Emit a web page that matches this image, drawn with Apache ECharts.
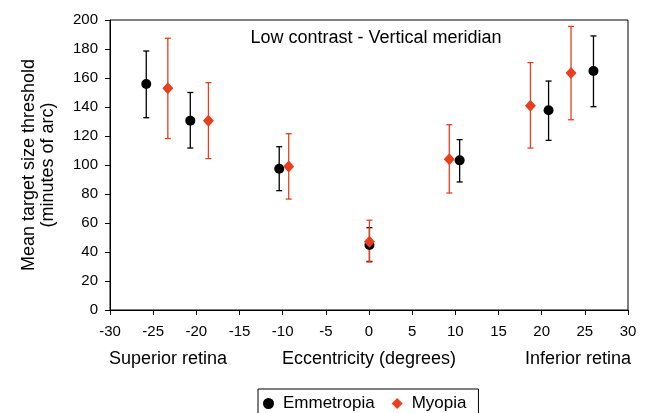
<!DOCTYPE html>
<html>
<head>
<meta charset="utf-8">
<script src="https://cdn.jsdelivr.net/npm/echarts@6/dist/echarts.min.js"></script>
<style>
  html, body { margin: 0; padding: 0; background: #fff; }
  #chart { width: 646px; height: 413px; }
</style>
</head>
<body>
<div id="chart"></div>
<script>
// eccentricity (deg), mean threshold and error bar ends
var emmX = [-25.8, -20.7, -10.4, 0.05, 10.5, 20.8, 26.0];
var emmY = [155.9, 130.6, 97.4, 44.8, 103.2, 137.7, 164.8];
var emmLow = [132.6, 111.7, 82.3, 33.5, 88.3, 117.0, 140.2];
var emmHigh = [178.6, 150.0, 112.6, 56.8, 117.5, 157.9, 189.0];

var myoX = [-23.3, -18.6, -9.3, 0.05, 9.3, 18.7, 23.4];
var myoY = [152.9, 130.6, 98.9, 47.1, 103.9, 140.9, 163.4];
var myoLow = [118.2, 104.4, 76.5, 33.1, 80.7, 111.7, 131.2];
var myoHigh = [187.4, 156.8, 121.6, 61.9, 127.8, 170.6, 195.6];

var black = '#000000';
var red = '#e8401f';

function pairs(xs, ys) {
  var out = [];
  for (var i = 0; i < xs.length; i++) {
    out.push([xs[i], ys[i]]);
  }
  return out;
}
function bars(xs, lo, hi) {
  var out = [];
  for (var i = 0; i < xs.length; i++) {
    out.push([xs[i], lo[i], hi[i]]);
  }
  return out;
}

function errorBar(color) {
  return function (params, api) {
    var top = api.coord([api.value(0), api.value(2)]);
    var bot = api.coord([api.value(0), api.value(1)]);
    var w = 3;
    var style = { stroke: color, lineWidth: 1.3 };
    return {
      type: 'group',
      children: [
        { type: 'line', shape: { x1: top[0], y1: top[1], x2: bot[0], y2: bot[1] }, style: style },
        { type: 'line', shape: { x1: top[0] - w, y1: top[1], x2: top[0] + w, y2: top[1] }, style: style },
        { type: 'line', shape: { x1: bot[0] - w, y1: bot[1], x2: bot[0] + w, y2: bot[1] }, style: style }
      ]
    };
  };
}

var chart = echarts.init(document.getElementById('chart'));
var font = 'Liberation Sans, Arial, sans-serif';
var option = {
  animation: false,
  textStyle: { fontFamily: font, color: '#000' },
  title: {
    text: 'Low contrast - Vertical meridian',
    left: 371,
    textAlign: 'center',
    top: 24,
    textStyle: { fontSize: 18, fontWeight: 'normal', color: '#000', fontFamily: font }
  },
  grid: {
    left: 110, right: 18, top: 20, bottom: 103,
    show: true, borderColor: '#000', borderWidth: 1
  },
  legend: {
    top: 389,
    left: 258,
    itemGap: 17,
    itemWidth: 11,
    itemHeight: 11,
    padding: [6, 12, 10, 5],
    borderColor: '#000',
    borderWidth: 1,
    textStyle: { fontSize: 17, color: '#000', fontFamily: font, padding: [0, 0, 0, 4] },
    data: [
      { name: 'Emmetropia', icon: 'circle', itemStyle: { color: black } },
      { name: 'Myopia', icon: 'diamond', itemStyle: { color: red } }
    ]
  },
  xAxis: {
    type: 'value',
    min: -30, max: 30, interval: 5,
    name: 'Eccentricity (degrees)',
    nameLocation: 'middle',
    nameGap: 40,
    nameTextStyle: { fontSize: 18, color: '#000', fontFamily: font },
    axisLine: { onZero: false, lineStyle: { color: '#000', width: 1 } },
    axisTick: { show: true, length: 5, lineStyle: { color: '#000' } },
    axisLabel: { fontSize: 15, color: '#000', margin: 14, fontFamily: font },
    splitLine: { show: false }
  },
  yAxis: {
    type: 'value',
    min: 0, max: 200, interval: 20,
    name: 'Mean target size threshold\n(minutes of arc)',
    nameLocation: 'middle',
    nameRotate: 90,
    nameGap: 52,
    nameTextStyle: { fontSize: 18, color: '#000', fontFamily: font, lineHeight: 19 },
    axisLine: { onZero: false, lineStyle: { color: '#000', width: 1 } },
    axisTick: { show: true, length: 5, lineStyle: { color: '#000' } },
    axisLabel: { fontSize: 15, color: '#000', margin: 12, fontFamily: font },
    splitLine: { show: false }
  },
  graphic: [
    { type: 'text', left: 109, top: 350, style: { text: 'Superior retina', fontSize: 18, fill: '#000', fontFamily: font } },
    { type: 'text', right: 15, top: 350, style: { text: 'Inferior retina', fontSize: 18, fill: '#000', fontFamily: font } }
  ],
  series: [
    {
      name: 'EmmErr', type: 'custom', renderItem: errorBar(black),
      data: bars(emmX, emmLow, emmHigh), z: 1, silent: true
    },
    {
      name: 'MyoErr', type: 'custom', renderItem: errorBar(red),
      data: bars(myoX, myoLow, myoHigh), z: 1, silent: true
    },
    {
      name: 'Emmetropia', type: 'scatter', symbol: 'circle', symbolSize: 10,
      itemStyle: { color: black, opacity: 1 }, data: pairs(emmX, emmY), z: 3
    },
    {
      name: 'Myopia', type: 'scatter', symbol: 'diamond', symbolSize: [11, 12],
      itemStyle: { color: red, opacity: 1 }, data: pairs(myoX, myoY), z: 4
    }
  ]
};
chart.setOption(option);
</script>
</body>
</html>
